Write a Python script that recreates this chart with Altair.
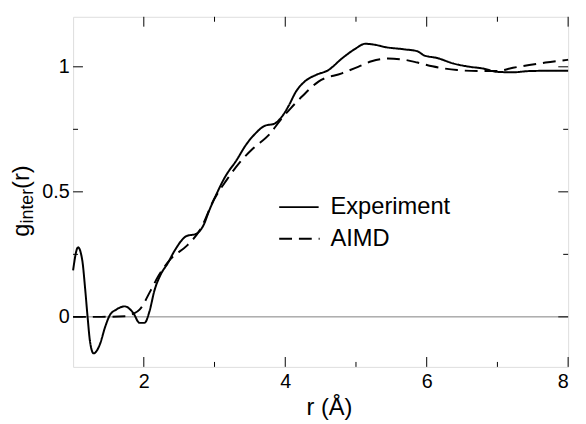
import altair as alt
import pandas as pd

# ---- data ----
exp_r = [1.00, 1.07, 1.13, 1.17, 1.205, 1.24, 1.29, 1.38, 1.45, 1.52, 1.61, 1.73, 1.85, 1.94,
         2.01, 2.08, 2.15, 2.24, 2.34, 2.43, 2.61, 2.73, 2.85, 2.92, 3.01, 3.15, 3.31, 3.45,
         3.57, 3.71, 3.85, 3.94, 4.05, 4.15, 4.27, 4.43, 4.61, 4.80, 4.99, 5.13, 5.27, 5.41,
         5.68, 5.87, 5.96, 6.15, 6.38, 6.61, 6.80, 6.99, 7.22, 7.45, 7.68, 8.00]
exp_g = [0.186, 0.278, 0.226, 0.114, 0.0, -0.10, -0.146, -0.109, -0.043, 0.007, 0.029, 0.042,
         0.016, -0.024, -0.024, 0.022, 0.105, 0.17, 0.215, 0.262, 0.324, 0.331, 0.37, 0.422,
         0.48, 0.56, 0.626, 0.69, 0.731, 0.764, 0.773, 0.796, 0.845, 0.90, 0.94, 0.967, 0.987,
         1.033, 1.072, 1.092, 1.088, 1.079, 1.07, 1.062, 1.046, 1.035, 1.013, 1.0, 0.993, 0.98,
         0.978, 0.983, 0.984, 0.984]

aimd_r = [1.00, 1.40, 1.75, 1.85, 1.94, 2.10, 2.20, 2.38, 2.61, 2.80, 2.99, 3.17, 3.36, 3.54,
          3.78, 3.94, 4.08, 4.24, 4.47, 4.80, 5.03, 5.22, 5.45, 5.64, 5.87, 6.08, 6.43, 6.75,
          6.99, 7.22, 7.45, 7.68, 8.00]
aimd_g = [0.0, 0.0, 0.003, 0.012, 0.029, 0.107, 0.16, 0.232, 0.285, 0.35, 0.468, 0.547, 0.619,
          0.672, 0.731, 0.79, 0.835, 0.882, 0.941, 0.974, 1.0, 1.022, 1.033, 1.03, 1.017, 1.002,
          0.987, 0.983, 0.983, 0.996, 1.007, 1.017, 1.028]

series_names = ["Experiment", "AIMD"]
x_labels = [2, 4, 6, 8]
y_labels = [0, 0.5, 1]
x_major = [2, 4, 6, 8]
x_minor = [3, 5, 7]
y_major = [0, 0.5, 1]
y_minor = [0.25, 0.75]
zero_line = [0]

# ---- layout / style ----
W, H = 502, 355
FONT = "Liberation Sans"
MAJ, MIN = 10, 5
DASH = [13, 7]

curves = pd.DataFrame({
    "r": exp_r + aimd_r,
    "g": exp_g + aimd_g,
    "series": [series_names[0]] * len(exp_r) + [series_names[1]] * len(aimd_r),
})

xs = alt.Scale(domain=[1, 8], nice=False, zero=False)
ys = alt.Scale(domain=[-0.2, 1.2], nice=False, zero=False)

xaxis = alt.Axis(values=x_labels, title=None, ticks=False, tickSize=0, grid=False, domain=False,
                 labelFontSize=20, labelFont=FONT, labelPadding=5, labelColor="black", format="~g")
yaxis = alt.Axis(values=y_labels, title=None, ticks=False, tickSize=0, grid=False, domain=False,
                 labelFontSize=20, labelFont=FONT, labelPadding=4, labelColor="black", format="~g")

zero = alt.Chart(pd.DataFrame({"g": zero_line})).mark_rule(
    color="#808080", strokeWidth=1
).encode(y=alt.Y("g:Q", scale=ys, axis=yaxis))

lines = alt.Chart(curves).mark_line(
    color="black", strokeWidth=2, interpolate="monotone"
).encode(
    x=alt.X("r:Q", scale=xs, axis=xaxis),
    y=alt.Y("g:Q", scale=ys, axis=yaxis),
    strokeDash=alt.StrokeDash("series:N", scale=alt.Scale(domain=series_names,
                                                           range=[[1, 0], DASH]), legend=None),
)


def xticks(vals, length, top):
    return alt.Chart(pd.DataFrame({"r": vals})).mark_rule(color="black", strokeWidth=1).encode(
        x=alt.X("r:Q", scale=xs, axis=xaxis),
        y=alt.value(0 if top else H),
        y2=alt.value(length if top else H - length),
    )


def yticks(vals, length, right):
    return alt.Chart(pd.DataFrame({"g": vals})).mark_rule(color="black", strokeWidth=1).encode(
        y=alt.Y("g:Q", scale=ys, axis=yaxis),
        x=alt.value(W if right else 0),
        x2=alt.value(W - length if right else length),
    )


ticks = [
    xticks(x_major, MAJ, False), xticks(x_minor, MIN, False),
    xticks(x_major, MAJ, True), xticks(x_minor, MIN, True),
    yticks(y_major, MAJ, False), yticks(y_minor, MIN, False),
    yticks(y_major, MAJ, True), yticks(y_minor, MIN, True),
]


def label(txt, x, y, size, angle=0, align="left", baseline="alphabetic"):
    return alt.Chart(pd.DataFrame({"t": [txt]})).mark_text(
        font=FONT, fontSize=size, color="black", angle=angle, align=align, baseline=baseline
    ).encode(text="t:N", x=alt.value(x), y=alt.value(y))


# y-axis title with subscript (rotated, reading upward)
ytitle = [
    label("g", -45, 223, 24, angle=270),
    label("inter", -41, 209.5, 18, angle=270),
    label("(r)", -45, 174.5, 24, angle=270),
]
# x-axis title
xtitle = [label("r (Å)", 260, 404, 24, align="center")]

# legend
legend = [
    alt.Chart(pd.DataFrame({"s": [series_names[0]]})).mark_rule(color="black", strokeWidth=2).encode(
        x=alt.value(209), x2=alt.value(249), y=alt.value(193)),
    alt.Chart(pd.DataFrame({"s": [series_names[1]]})).mark_rule(
        color="black", strokeWidth=2, strokeDash=DASH).encode(
        x=alt.value(209), x2=alt.value(250), y=alt.value(225)),
    label(series_names[0], 261, 193, 24, baseline="middle"),
    label(series_names[1], 261, 225, 24, baseline="middle"),
]

chart = alt.layer(zero, lines, *ticks, *ytitle, *xtitle, *legend).properties(
    width=W, height=H,
    autosize=alt.AutoSizeParams(type="none"),
    padding={"left": 66, "top": 6, "right": 10, "bottom": 55},
).configure_view(stroke="black", strokeWidth=1.3).configure(background="white")

chart.save("out.html", embed_options={"renderer": "svg", "actions": False})
